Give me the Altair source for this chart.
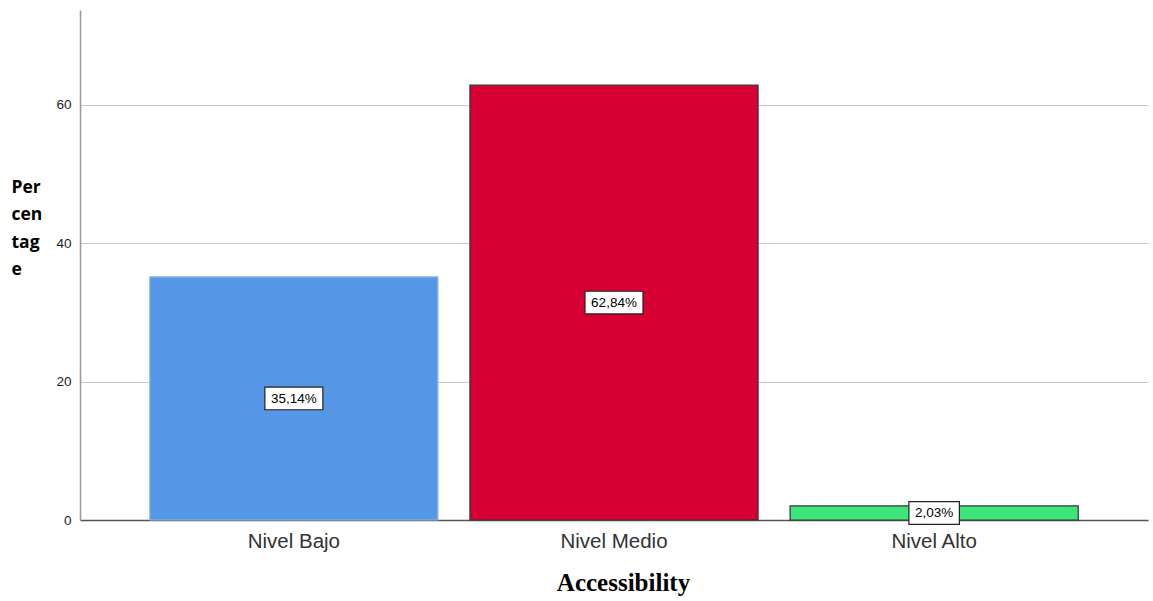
import altair as alt
import pandas as pd

categories = ["Nivel Bajo", "Nivel Medio", "Nivel Alto"]
values = [35.14, 62.84, 2.03]
fill_colors = ["#5596E6", "#D60032", "#3EE57A"]
stroke_colors = ["#8DB8F0", "#333333", "#333333"]

df = pd.DataFrame({"cat": categories, "value": values})

x_enc = alt.X(
    "cat:N",
    sort=categories,
    scale=alt.Scale(paddingInner=0.1, paddingOuter=0.218),
    axis=alt.Axis(
        title="Accessibility",
        titleFont="Liberation Serif",
        titleFontSize=25,
        titleFontWeight="bold",
        titleColor="#000000",
        titleX=543,
        titleY=70,
        titleAlign="center",
        titleBaseline="alphabetic",
        labelFont="Liberation Sans",
        labelFontSize=20.5,
        labelColor="#333333",
        labelAngle=0,
        labelPadding=11,
        ticks=False,
        domainColor="#555555",
        domainWidth=1.5,
        grid=False,
    ),
)

y_scale = alt.Scale(domain=[0, 73.7], nice=False, zero=True)

bars = alt.Chart(df).mark_bar(strokeWidth=1.2).encode(
    x=x_enc,
    y=alt.Y(
        "value:Q",
        scale=y_scale,
        axis=alt.Axis(
            values=[0, 20, 40, 60],
            title=["Per", "cen", "tag", "e"],
            titleAngle=0,
            titleFont="Open Sans",
            titleFontSize=17.5,
            titleFontWeight="bold",
            titleColor="#000000",
            titleAlign="left",
            titleBaseline="top",
            titleLineHeight=27.5,
            titleX=-69,
            titleY=168,
            labelFont="Liberation Sans",
            labelFontSize=13.5,
            labelColor="#222222",
            labelPadding=9,
            ticks=False,
            domainColor="#999999",
            domainWidth=1.5,
            grid=True,
            gridColor="#C8C8C8",
            gridWidth=1,
        ),
    ),
    color=alt.Color("cat:N", sort=categories,
                    scale=alt.Scale(domain=categories, range=fill_colors), legend=None),
    stroke=alt.Stroke("cat:N", sort=categories,
                      scale=alt.Scale(domain=categories, range=stroke_colors), legend=None),
)

label_base = alt.Chart(df).transform_calculate(
    mid="datum.value / 2",
    label="replace(format(datum.value, '.2f'), '.', ',') + '%'",
).transform_calculate(
    w="(length(datum.label) * 7.5 + 13) / 58",
).transform_calculate(
    shape="'M' + (-datum.w) + ',-0.39L' + datum.w + ',-0.39L' + datum.w + ',0.39L' + (-datum.w) + ',0.39Z'",
)

boxes = label_base.mark_point(
    filled=True, fill="#FFFFFF", stroke="#222222", strokeWidth=1.2, opacity=1, size=3364
).encode(
    x=alt.X("cat:N", sort=categories),
    y=alt.Y("mid:Q", scale=y_scale),
    shape=alt.Shape("shape:N", scale=None),
)

texts = label_base.mark_text(
    font="Liberation Sans", fontSize=13.5, color="#000000", baseline="middle", align="center", dy=0.5
).encode(
    x=alt.X("cat:N", sort=categories),
    y=alt.Y("mid:Q", scale=y_scale),
    text="label:N",
)

chart = alt.layer(bars, boxes, texts).properties(
    width=1068,
    height=510,
    autosize=alt.AutoSizeParams(type="none"),
    padding={"left": 80, "top": 10, "right": 5, "bottom": 81},
    background="#FFFFFF",
).configure_view(stroke=None)

chart.save("out.html", embed_options={"renderer": "svg", "actions": False})
